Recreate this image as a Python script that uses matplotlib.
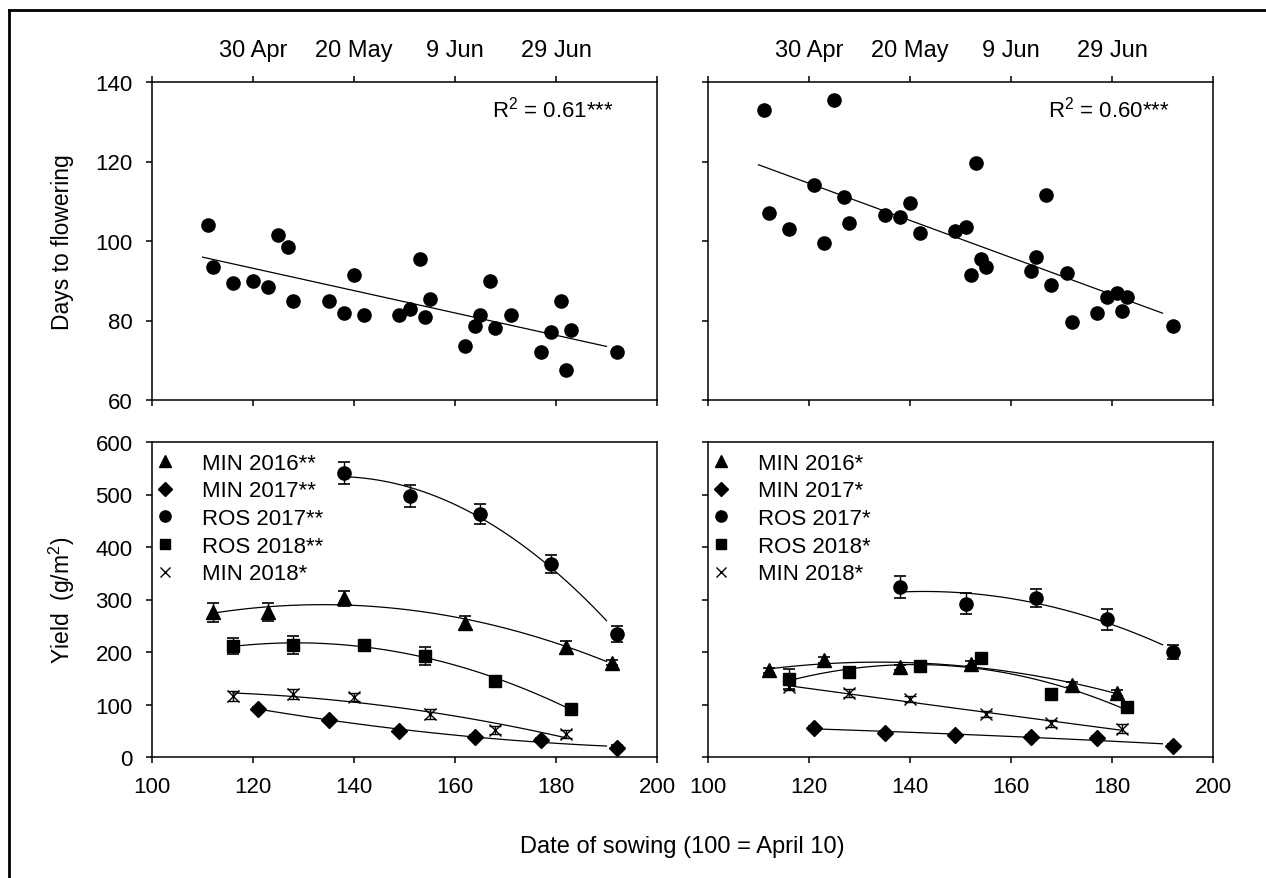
import numpy as np
import matplotlib
matplotlib.use("Agg")
import matplotlib.pyplot as plt
from matplotlib.lines import Line2D

plt.rcParams["font.family"] = ["Liberation Sans", "DejaVu Sans"]
plt.rcParams["mathtext.fontset"] = "custom"
plt.rcParams["mathtext.rm"] = "Liberation Sans"
plt.rcParams["mathtext.it"] = "Liberation Sans:italic"
plt.rcParams["mathtext.bf"] = "Liberation Sans:bold"

# --- days to flowering (top panels) ---
flow_day_a = [111, 112, 116, 120, 123, 125, 127, 128, 135, 138, 140, 142, 149, 151, 153,
              154, 155, 162, 164, 165, 167, 168, 171, 177, 179, 181, 182, 183, 192]
flow_val_a = [104, 93.5, 89.5, 90, 88.5, 101.5, 98.5, 85, 85, 82, 91.5, 81.5, 81.5, 83, 95.5,
              81, 85.5, 73.5, 78.5, 81.5, 90, 78, 81.5, 72, 77, 85, 67.5, 77.5, 72]
flow_day_b = [111, 125, 112, 116, 121, 123, 127, 128, 135, 138, 140, 142, 149, 151, 153,
              152, 154, 155, 164, 165, 167, 168, 171, 172, 177, 179, 181, 182, 183, 192]
flow_val_b = [133, 135.5, 107, 103, 114, 99.5, 111, 104.5, 106.5, 106, 109.5, 102, 102.5, 103.5, 119.5,
              91.5, 95.5, 93.5, 92.5, 96, 111.5, 89, 92, 79.5, 82, 86, 87, 82.5, 86, 78.5]
r2_labels = ["R$^2$ = 0.61***", "R$^2$ = 0.60***"]

# --- yield (bottom panels) ---
series_names = ["MIN 2016", "MIN 2017", "ROS 2017", "ROS 2018", "MIN 2018"]
stars_a = ["**", "**", "**", "**", "*"]
stars_b = ["*", "*", "*", "*", "*"]

yield_day = {
    "MIN 2016": [112, 123, 138, 162, 182, 191],
    "MIN 2017": [121, 135, 149, 164, 177, 192],
    "ROS 2017": [138, 151, 165, 179, 192],
    "ROS 2018": [116, 128, 142, 154, 168, 183],
    "MIN 2018": [116, 128, 140, 155, 168, 182],
}
yield_day_b = {
    "MIN 2016": [112, 123, 138, 152, 172, 181],
    "MIN 2017": [121, 135, 149, 164, 177, 192],
    "ROS 2017": [138, 151, 165, 179, 192],
    "ROS 2018": [116, 128, 142, 154, 168, 183],
    "MIN 2018": [116, 128, 140, 155, 168, 182],
}
yield_a = {
    "MIN 2016": [276, 277, 302, 256, 210, 180],
    "MIN 2017": [92, 71, 50, 38, 32, 18],
    "ROS 2017": [541, 498, 462, 368, 234],
    "ROS 2018": [212, 213, 213, 193, 145, 92],
    "MIN 2018": [116, 120, 114, 82, 52, 44],
}
yield_err_a = {
    "MIN 2016": [18, 17, 15, 12, 11, 5],
    "MIN 2017": [4, 4, 4, 4, 4, 4],
    "ROS 2017": [21, 21, 19, 17, 15],
    "ROS 2018": [15, 17, 6, 17, 8, 5],
    "MIN 2018": [10, 9, 8, 9, 8, 8],
}
yield_b = {
    "MIN 2016": [165, 185, 171, 178, 138, 122],
    "MIN 2017": [56, 46, 41, 38, 37, 21],
    "ROS 2017": [323, 292, 303, 262, 200],
    "ROS 2018": [148, 161, 173, 189, 120, 95],
    "MIN 2018": [133, 122, 110, 82, 64, 54],
}
yield_err_b = {
    "MIN 2016": [5, 5, 5, 5, 5, 5],
    "MIN 2017": [3, 3, 3, 3, 3, 3],
    "ROS 2017": [21, 20, 17, 20, 13],
    "ROS 2018": [19, 6, 6, 6, 6, 6],
    "MIN 2018": [6, 8, 6, 6, 6, 8],
}

x_ticks = [100, 120, 140, 160, 180, 200]
date_labels = ["", "30 Apr", "20 May", "9 Jun", "29 Jun", ""]

markers = {
    "MIN 2016": dict(marker="^", ms=9.5),
    "MIN 2017": dict(marker="D", ms=8),
    "ROS 2017": dict(marker="o", ms=9.5),
    "ROS 2018": dict(marker="s", ms=8.5),
    "MIN 2018": dict(marker="x", ms=8.5, mew=1),
}

FS = 16
W, H = 1266, 879


def px_axes(fig, left, top, right, bottom):
    return fig.add_axes([left / W, 1 - bottom / H, (right - left) / W, (bottom - top) / H])


def style_axis(ax, ylim, yticks, show_ylabels, top_panel):
    ax.set_xlim(100, 200)
    ax.set_ylim(*ylim)
    ax.set_yticks(yticks)
    for s in ax.spines.values():
        s.set_linewidth(1.1)
    ax.tick_params(axis="both", direction="out", length=4, width=1.1, labelsize=FS, pad=10)
    ax.tick_params(axis="y", labelleft=show_ylabels)
    if top_panel:
        ax.set_xticks(x_ticks, labels=date_labels)
        ax.tick_params(axis="x", top=True, labeltop=True, labelbottom=False,
                       labelsize=FS + 1, pad=11)
    else:
        ax.set_xticks(x_ticks)


def plot_flowering(ax, days, vals, r2):
    days = np.array(days, dtype=float)
    vals = np.array(vals, dtype=float)
    ax.plot(days, vals, "o", color="black", ms=9.5, ls="none")
    coef = np.polyfit(days, vals, 1)
    xx = np.linspace(110, 190, 50)
    ax.plot(xx, np.polyval(coef, xx), color="black", lw=0.9)
    ax.text(0.915, 0.915, r2, transform=ax.transAxes, ha="right", va="center", fontsize=FS)


def plot_yield(ax, day_dict, val_dict, err_dict, stars):
    handles = []
    for name, star in zip(series_names, stars):
        x = np.array(day_dict[name], dtype=float)
        y = np.array(val_dict[name], dtype=float)
        m = markers[name]
        ax.errorbar(x, y, yerr=err_dict[name], ls="none", color="black",
                    capsize=4, elinewidth=1, capthick=1.2, mfc="black", mec="black", **m)
        coef = np.polyfit(x, y, 2)
        xx = np.linspace(x.min(), min(x.max(), 190), 80)
        ax.plot(xx, np.polyval(coef, xx), color="black", lw=0.9)
        handles.append(Line2D([], [], color="black", ls="none", mfc="black", mec="black",
                              label=name + star, **m))
    ax.legend(handles=handles, loc="upper left", bbox_to_anchor=(0.0, 0.98), frameon=False,
              fontsize=FS, handletextpad=1.25, labelspacing=0.3, borderaxespad=0.1,
              markerscale=0.85, borderpad=0.1, handlelength=0.8)


fig = plt.figure(figsize=(W / 100, H / 100), dpi=100)

ax_tl = px_axes(fig, 152, 83, 657, 401)
ax_tr = px_axes(fig, 708, 83, 1213, 401)
ax_bl = px_axes(fig, 152, 443, 657, 758)
ax_br = px_axes(fig, 708, 443, 1213, 758)

plot_flowering(ax_tl, flow_day_a, flow_val_a, r2_labels[0])
plot_flowering(ax_tr, flow_day_b, flow_val_b, r2_labels[1])
style_axis(ax_tl, (60, 140), [60, 80, 100, 120, 140], True, True)
style_axis(ax_tr, (60, 140), [60, 80, 100, 120, 140], False, True)

plot_yield(ax_bl, yield_day, yield_a, yield_err_a, stars_a)
plot_yield(ax_br, yield_day_b, yield_b, yield_err_b, stars_b)
style_axis(ax_bl, (0, 600), [0, 100, 200, 300, 400, 500, 600], True, False)
style_axis(ax_br, (0, 600), [0, 100, 200, 300, 400, 500, 600], False, False)

fig.text(62 / W, 1 - 242 / H, "Days to flowering", rotation=90, ha="center", va="center", fontsize=FS + 0.5)
fig.text(62 / W, 1 - 600 / H, "Yield  (g/m$^2$)", rotation=90, ha="center", va="center", fontsize=FS + 0.5)
fig.text(682 / W, 1 - 847 / H, "Date of sowing (100 = April 10)", ha="center", va="center", fontsize=FS + 1)

# outer frame (left and top edges only, as in the source image)
fig.add_artist(Line2D([9 / W, 9 / W], [0, 1 - 11 / H], transform=fig.transFigure, color="black", lw=2))
fig.add_artist(Line2D([9 / W, 1], [1 - 11 / H, 1 - 11 / H], transform=fig.transFigure, color="black", lw=2))

fig.savefig("out.png", dpi=100)
